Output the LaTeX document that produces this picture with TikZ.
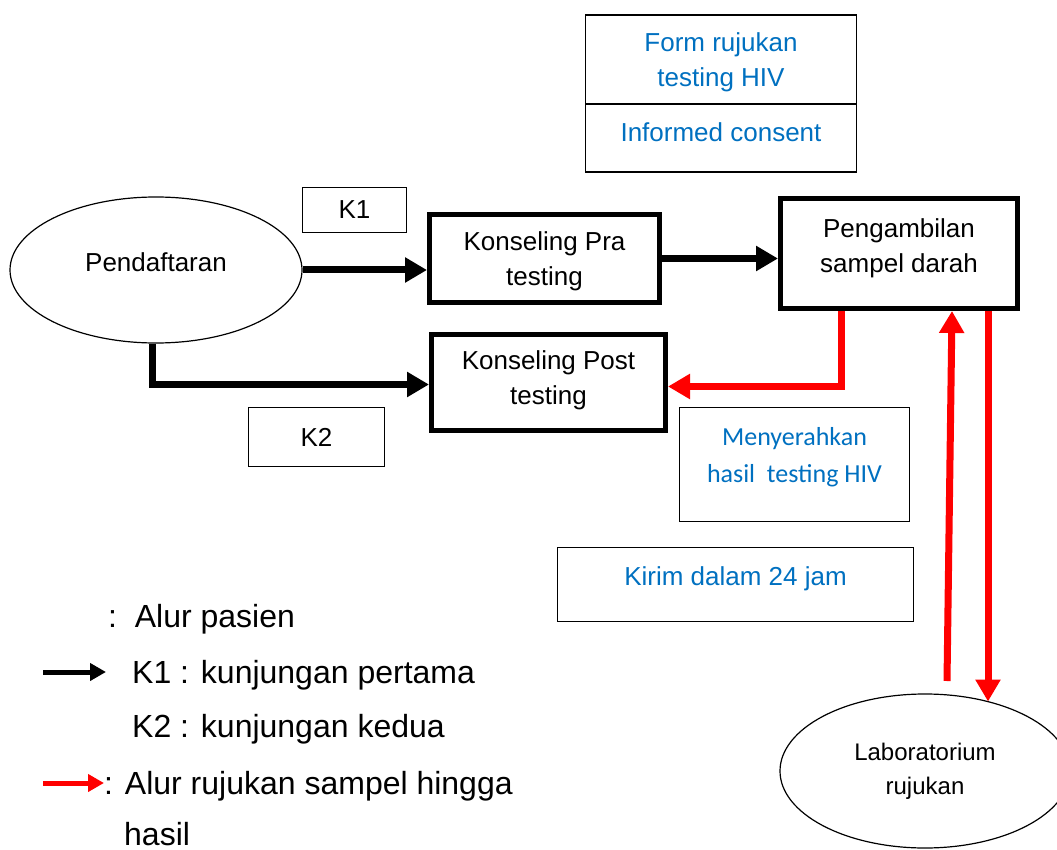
\documentclass[tikz,border=0pt]{standalone}
\usepackage{fontspec}
\setmainfont{Liberation Sans}
\newfontfamily\calib{Carlito}
\usetikzlibrary{arrows.meta,shapes.geometric,calc}
\definecolor{txtblue}{RGB}{0,112,192}
\newcommand\diagfont{\fontsize{26}{35}\selectfont}
\newcommand\legfont{\fontsize{32}{55}\selectfont}
\tikzset{
  thinbox/.style={draw, line width=1.5pt, inner sep=0pt, align=center, font=\diagfont},
  thickbox/.style={draw, line width=5pt, inner sep=0pt, align=center, font=\diagfont},
  oval/.style={draw, ellipse, line width=1.2pt, inner sep=0pt, align=center},
  flow/.style={line width=7pt, -{Triangle[length=22pt,width=24pt]}},
  redflow/.style={flow, draw=red, color=red},
  legarrow/.style={line width=5pt, -{Triangle[length=16pt,width=17pt]}},
  legtext/.style={anchor=base west, inner sep=0pt, font=\legfont},
}
\begin{document}
\begin{tikzpicture}[x=1pt,y=-1pt]
\useasboundingbox (0,0) rectangle (1057,850);
\clip (0,0) rectangle (1057,850);
% top box
\node[thinbox, text=txtblue, minimum width=271pt, minimum height=89pt, text depth=0pt] (form) at (721,59.5) {Form rujukan\\testing HIV};
\node[thinbox, text=txtblue, minimum width=271pt, minimum height=68pt, text depth=12pt] (consent) at (721,138) {Informed consent};
% main flow
\node[oval, minimum width=292pt, minimum height=146pt, font=\diagfont, text depth=16pt] (pend) at (156,270) {Pendaftaran};
\node[thinbox, minimum width=104pt, minimum height=45pt] (k1) at (354.5,210) {K1};
\node[thinbox, minimum width=136pt, minimum height=59pt] (k2) at (316.5,437) {K2};
\node[thickbox, minimum width=230pt, minimum height=88pt, text depth=0pt] (pra) at (544.5,258.5) {Konseling Pra\\testing};
\node[thickbox, minimum width=237pt, minimum height=110pt, text depth=15.5pt] (peng) at (899,253.5) {Pengambilan\\sampel darah};
\node[thickbox, minimum width=234pt, minimum height=96pt, text depth=9.5pt] (post) at (548.5,382.5) {Konseling Post\\testing};
\node[thinbox, text=txtblue, font=\calib\fontsize{26}{37}\selectfont, minimum width=230pt, minimum height=114pt, text depth=20pt] (serah) at (794.5,464.5) {Menyerahkan\\hasil\ \ testing HIV};
\node[thinbox, text=txtblue, minimum width=356pt, minimum height=74pt, text depth=17.5pt] (kirim) at (735.5,584.5) {Kirim dalam 24 jam};
\node[oval, minimum width=290pt, minimum height=154pt, font=\fontsize{24}{34}\selectfont] (lab) at (925,771) {Laboratorium\\rujukan};
% black connectors
\draw[flow] (pend.east) -- (pend.east -| pra.west);
\draw[flow] (pra.east) -- (pra.east -| peng.west);
\draw[flow] ([xshift=-4pt]pend.south) -- ([xshift=-4pt,yshift=-2pt]pend.south |- post.west) -- ([yshift=-2pt]post.west);
% red connectors
\coordinate (redstart) at ([xshift=63pt]peng.south west);
\draw[redflow] (redstart) -- ([yshift=-4pt]redstart |- post.east) -- ([yshift=-4pt]post.east);
\coordinate (upstart) at (947,681);
\draw[redflow] (upstart) -- ([xshift=53pt]peng.south);
\coordinate (downstart) at ([xshift=89pt]peng.south);
\draw[redflow] (downstart) -- (downstart |- lab.47.7);
% legend
\node[legtext] (l1) at (108,627) {:\ \ Alur pasien};
\coordinate (la1) at (43,672);
\coordinate (la2) at (106,672);
\draw[legarrow] (la1) -- (la2);
\node[legtext] (l2) at (132,683) {K1 : kunjungan pertama};
\node[legtext] (l3) at (132,737) {K2 : kunjungan kedua};
\coordinate (lb1) at (43,783);
\coordinate (lb2) at (104,783);
\draw[legarrow, draw=red, color=red] (lb1) -- (lb2);
\node[legtext] (l4) at (104,794) {: Alur rujukan sampel hingga};
\node[legtext] (l5) at (124,845) {hasil};
\end{tikzpicture}
\end{document}
